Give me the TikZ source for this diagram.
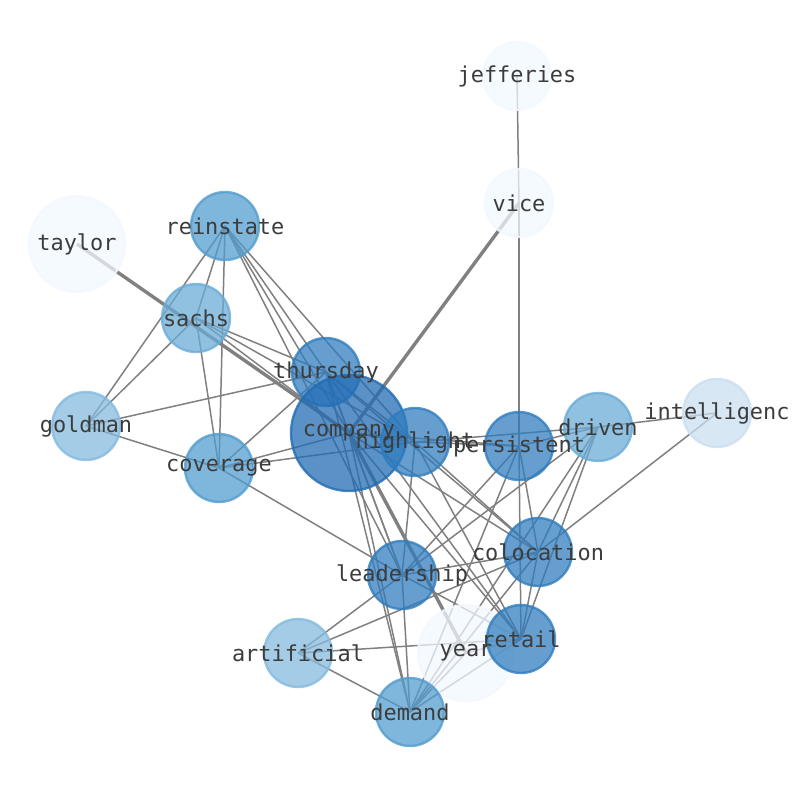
\documentclass[tikz,border=0pt]{standalone}
\usepackage{fontspec}
\setmonofont{DejaVu Sans Mono}
\definecolor{edgegray}{RGB}{128,128,128}
\definecolor{wordgray}{RGB}{60,60,60}
\definecolor{cdark}{RGB}{33,108,180}
\definecolor{cmid}{RGB}{48,125,190}
\definecolor{cmed}{RGB}{82,156,206}
\definecolor{clight}{RGB}{106,172,214}
\definecolor{cpale}{RGB}{132,186,222}
\definecolor{cfaint}{RGB}{202,222,240}
\definecolor{cwhite}{RGB}{242,248,255}
\begin{document}
\begin{tikzpicture}[x=0.5bp,y=-0.5bp,
  edge/.style={draw=edgegray,line width=0.75bp},
  heavy/.style={draw=edgegray,line width=1.7bp},
  term/.style={circle,inner sep=0pt,fill=#1,fill opacity=0.74,draw=#1,draw opacity=0.8,line width=1.2bp},
  word/.style={font=\ttfamily\fontsize{11}{13}\selectfont,text=wordgray,inner sep=0pt}]
\useasboundingbox (0,0) rectangle (794,790);
% centres
\coordinate (jefferies) at (517,76);
\coordinate (vice) at (519,203);
\coordinate (taylor) at (77,244);
\coordinate (reinstate) at (225,226);
\coordinate (sachs) at (196,318);
\coordinate (thursday) at (326,372);
\coordinate (goldman) at (86,426);
\coordinate (coverage) at (219,468);
\coordinate (company) at (349,433);
\coordinate (highlight) at (415,442);
\coordinate (persistent) at (519,446);
\coordinate (driven) at (598,427);
\coordinate (intelligenc) at (717,413);
\coordinate (colocation) at (538,552);
\coordinate (leadership) at (402,575);
\coordinate (artificial) at (298,653);
\coordinate (year) at (466,653);
\coordinate (retail) at (521,639);
\coordinate (demand) at (410,712);
% edges
\foreach \a/\b in {jefferies/vice,vice/persistent,
  reinstate/sachs,reinstate/goldman,reinstate/coverage,reinstate/thursday,
  reinstate/company,reinstate/highlight,reinstate/leadership,
  sachs/goldman,sachs/coverage,sachs/thursday,sachs/company,sachs/highlight,
  goldman/coverage,goldman/thursday,
  coverage/thursday,coverage/company,coverage/highlight,coverage/leadership,
  thursday/company,thursday/highlight,thursday/leadership,thursday/colocation,
  thursday/retail,thursday/demand,
  company/highlight,company/persistent,company/leadership,company/colocation,
  company/retail,company/demand,
  highlight/persistent,highlight/leadership,highlight/colocation,highlight/retail,
  highlight/driven,
  persistent/driven,persistent/colocation,persistent/retail,persistent/leadership,
  persistent/demand,
  driven/intelligenc,driven/colocation,driven/retail,driven/leadership,driven/demand,
  intelligenc/colocation,
  colocation/leadership,colocation/retail,colocation/demand,colocation/artificial,
  leadership/retail,leadership/demand,leadership/artificial,
  retail/demand,retail/artificial,retail/year,
  artificial/demand,demand/year}
  \draw[edge] (\a) -- (\b);
\foreach \a/\b in {taylor/company,vice/company,company/year}
  \draw[heavy] (\a) -- (\b);
% disks
\foreach \n/\c/\s in {jefferies/cwhite/68,vice/cwhite/68,taylor/cwhite/96,
  reinstate/cmed/68,sachs/clight/68,thursday/cmid/68,goldman/cpale/68,
  coverage/cmed/68,company/cdark/116,highlight/cmid/68,persistent/cmid/68,
  driven/clight/68,intelligenc/cfaint/68,colocation/cmid/68,leadership/cmid/68,
  artificial/cpale/68,year/cwhite/96,retail/cmid/68,demand/cmed/68}
  \node[term=\c,minimum size=\s*0.5bp] (\n-disk) at (\n) {};
% labels
\foreach \n in {jefferies,vice,taylor,reinstate,sachs,thursday,goldman,coverage,
  company,highlight,persistent,driven,intelligenc,colocation,leadership,
  artificial,year,retail,demand}
  \node[word] (\n-text) at (\n) {\n};
\end{tikzpicture}
\end{document}
